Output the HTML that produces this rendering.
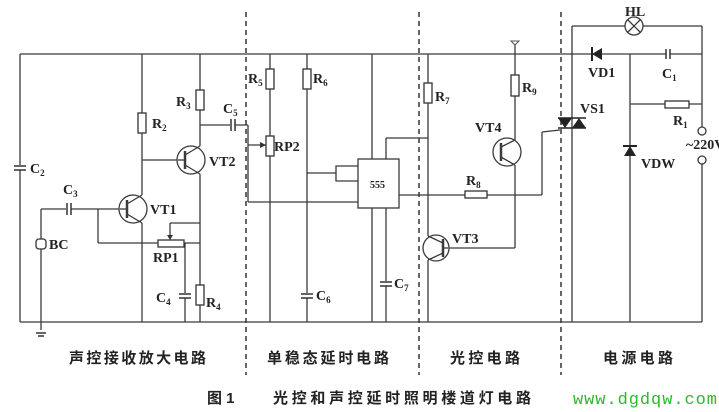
<!DOCTYPE html>
<html><head><meta charset="utf-8"><style>
html,body{margin:0;padding:0;background:#fff;}
svg{display:block;}
.w{stroke:#3a3a3a;stroke-width:1.3;fill:none;}
.t{font-family:"Liberation Serif",serif;font-weight:bold;font-size:14px;fill:#222;}
.c{font-family:"Liberation Sans","Noto Sans CJK SC",sans-serif;font-weight:bold;font-size:15px;fill:#222;}
</style></head><body>
<svg width="719" height="412" viewBox="0 0 719 412" xmlns="http://www.w3.org/2000/svg">
<g stroke="#333" stroke-width="1.5" stroke-dasharray="5,4">
<line x1="246" y1="12" x2="246" y2="375"/>
<line x1="419" y1="12" x2="419" y2="375"/>
<line x1="561" y1="12" x2="561" y2="375"/>
</g>
<g class="w">
<line x1="20" y1="54" x2="702" y2="54"/>
<line x1="20" y1="322" x2="702" y2="322"/>
<line x1="20" y1="54" x2="20" y2="322"/>
<line x1="142" y1="54" x2="142" y2="195"/>
<line x1="142" y1="223" x2="142" y2="322"/>
<line x1="142" y1="160" x2="178" y2="160"/>
<line x1="200" y1="54" x2="200" y2="146"/>
<line x1="200" y1="174" x2="200" y2="322"/>
<line x1="200" y1="125" x2="248" y2="125"/>
<line x1="41" y1="209" x2="120" y2="209"/>
<line x1="41" y1="209" x2="41" y2="330"/>
<line x1="98" y1="209" x2="98" y2="243"/>
<line x1="98" y1="243" x2="200" y2="243"/>
<line x1="170" y1="239" x2="170" y2="223"/>
<line x1="170" y1="223" x2="200" y2="223"/>
<line x1="185" y1="243" x2="185" y2="322"/>
<circle cx="133" cy="209" r="14" fill="#fff"/>
<line x1="127" y1="200" x2="127" y2="218" stroke-width="2.5"/>
<line x1="120" y1="209" x2="127" y2="209"/>
<line x1="127" y1="204" x2="142" y2="195"/>
<line x1="127" y1="214" x2="142" y2="223"/>
<circle cx="191" cy="160" r="14" fill="#fff"/>
<line x1="185" y1="151" x2="185" y2="169" stroke-width="2.5"/>
<line x1="178" y1="160" x2="185" y2="160"/>
<line x1="185" y1="155" x2="200" y2="146"/>
<line x1="185" y1="165" x2="200" y2="174"/>
<line x1="248" y1="125" x2="248" y2="202"/>
<line x1="248" y1="145" x2="266" y2="145"/>
<line x1="248" y1="202" x2="358" y2="202"/>
<line x1="270" y1="54" x2="270" y2="322"/>
<line x1="307" y1="54" x2="307" y2="322"/>
<line x1="307" y1="173" x2="336" y2="173"/>
<path d="M358 166 H336 V181 H358"/>
<rect x="358" y="159" width="41" height="49" fill="#fff"/>
<line x1="372" y1="54" x2="372" y2="159"/>
<line x1="386" y1="138" x2="386" y2="159"/>
<line x1="386" y1="138" x2="428" y2="138"/>
<line x1="372" y1="208" x2="372" y2="322"/>
<line x1="386" y1="208" x2="386" y2="322"/>
<line x1="399" y1="195" x2="542" y2="195"/>
<line x1="428" y1="54" x2="428" y2="236"/>
<line x1="428" y1="260" x2="428" y2="322"/>
<line x1="515" y1="44" x2="515" y2="140"/>
<line x1="515" y1="165" x2="515" y2="248"/>
<line x1="448" y1="248" x2="515" y2="248"/>
<line x1="542" y1="195" x2="542" y2="132"/>
<line x1="542" y1="132" x2="560" y2="130"/>
<circle cx="436" cy="248" r="13" fill="#fff"/>
<line x1="443" y1="239" x2="443" y2="257" stroke-width="2.5"/>
<line x1="443" y1="248" x2="448" y2="248"/>
<line x1="443" y1="243" x2="428" y2="236"/>
<line x1="443" y1="253" x2="428" y2="260"/>
<circle cx="507" cy="152" r="14" fill="#fff"/>
<line x1="501" y1="143" x2="501" y2="161" stroke-width="2.5"/>
<line x1="501" y1="147" x2="515" y2="140"/>
<line x1="501" y1="157" x2="515" y2="165"/>
<line x1="572" y1="26" x2="572" y2="322"/>
<line x1="572" y1="26" x2="625" y2="26"/>
<line x1="643" y1="26" x2="702" y2="26"/>
<line x1="702" y1="26" x2="702" y2="127"/>
<line x1="702" y1="164" x2="702" y2="322"/>
<line x1="630" y1="54" x2="630" y2="322"/>
<line x1="630" y1="104" x2="702" y2="104"/>
<circle cx="634" cy="26" r="9" fill="#fff"/>
<line x1="628" y1="20" x2="640" y2="32"/><line x1="640" y1="20" x2="628" y2="32"/>
<circle cx="702" cy="131" r="4" fill="#fff"/>
<circle cx="702" cy="160" r="4" fill="#fff"/>
</g>
<g fill="#fff" stroke="#333" stroke-width="1.3">
<rect x="138" y="113" width="8" height="20"/>
<rect x="196" y="90" width="8" height="20"/>
<rect x="196" y="285" width="8" height="20"/>
<rect x="266" y="69" width="8" height="20"/>
<rect x="266" y="136" width="8" height="20"/>
<rect x="303" y="69" width="8" height="20"/>
<rect x="424" y="83" width="8" height="20"/>
<rect x="511" y="75" width="8" height="21"/>
<rect x="465" y="191" width="22" height="7"/>
<rect x="665" y="101" width="24" height="7"/>
<rect x="158" y="240" width="26" height="7"/>
<rect x="36" y="239" width="10" height="10" rx="3"/>
</g>
<path d="M266 145 l-6 -3 v6z" fill="#333"/>
<path d="M170 240 l-3 -5 h6z" fill="#333"/>
<g stroke="#333" stroke-width="1.5">
<rect x="14" y="165" width="12" height="5" fill="#fff" stroke="none"/><line x1="14" y1="166" x2="26" y2="166"/><line x1="14" y1="170" x2="26" y2="170"/>
<rect x="66" y="203" width="5" height="12" fill="#fff" stroke="none"/><line x1="67" y1="203" x2="67" y2="215"/><line x1="71" y1="203" x2="71" y2="215"/>
<rect x="230" y="119" width="5" height="12" fill="#fff" stroke="none"/><line x1="231" y1="119" x2="231" y2="131"/><line x1="235" y1="119" x2="235" y2="131"/>
<rect x="179" y="293" width="12" height="5" fill="#fff" stroke="none"/><line x1="179" y1="294" x2="191" y2="294"/><line x1="179" y1="298" x2="191" y2="298"/>
<rect x="301" y="293" width="12" height="5" fill="#fff" stroke="none"/><line x1="301" y1="294" x2="313" y2="294"/><line x1="301" y1="298" x2="313" y2="298"/>
<rect x="380" y="281" width="12" height="5" fill="#fff" stroke="none"/><line x1="380" y1="282" x2="392" y2="282"/><line x1="380" y1="286" x2="392" y2="286"/>
<rect x="666" y="49" width="4" height="10" fill="#fff" stroke="none"/><line x1="666" y1="49" x2="666" y2="59"/><line x1="670" y1="49" x2="670" y2="59"/>
</g>
<path d="M592 54 l10 -6 v12z" fill="#222"/><line x1="592" y1="47" x2="592" y2="61" stroke="#222" stroke-width="2"/>
<path d="M630 146 l-6 10 h12z" fill="#222"/><line x1="623" y1="146" x2="637" y2="146" stroke="#222" stroke-width="2"/>
<g fill="#222"><path d="M558 118 h14 l-7 10z"/><path d="M572 128 h14 l-7 -10z"/></g>
<line x1="558" y1="118" x2="586" y2="118" stroke="#222" stroke-width="1.5"/>
<line x1="558" y1="128" x2="586" y2="128" stroke="#222" stroke-width="1.5"/>
<path d="M36 333 h10 M38 336 h6" stroke="#333" stroke-width="1.5"/>
<path d="M511 41 h8 l-4 4z" stroke="#555" fill="none"/>
<text class="t" x="30" y="173">C<tspan font-size="9" dy="3">2</tspan></text>
<text class="t" x="63" y="194">C<tspan font-size="9" dy="3">3</tspan></text>
<text class="t" x="49" y="249">BC</text>
<text class="t" x="152" y="128">R<tspan font-size="9" dy="3">2</tspan></text>
<text class="t" x="176" y="106">R<tspan font-size="9" dy="3">3</tspan></text>
<text class="t" x="150" y="214">VT1</text>
<text class="t" x="209" y="166">VT2</text>
<text class="t" x="223" y="113">C<tspan font-size="9" dy="3">5</tspan></text>
<text class="t" x="153" y="262">RP1</text>
<text class="t" x="156" y="302">C<tspan font-size="9" dy="3">4</tspan></text>
<text class="t" x="206" y="307">R<tspan font-size="9" dy="3">4</tspan></text>
<text class="t" x="248" y="83">R<tspan font-size="9" dy="3">5</tspan></text>
<text class="t" x="313" y="83">R<tspan font-size="9" dy="3">6</tspan></text>
<text class="t" x="274" y="151">RP2</text>
<text class="t" x="316" y="300">C<tspan font-size="9" dy="3">6</tspan></text>
<text class="t" x="394" y="288">C<tspan font-size="9" dy="3">7</tspan></text>
<text x="370" y="188" font-family="Liberation Serif,serif" font-weight="bold" font-size="10" fill="#222">555</text>
<text class="t" x="435" y="101">R<tspan font-size="9" dy="3">7</tspan></text>
<text class="t" x="522" y="92">R<tspan font-size="9" dy="3">9</tspan></text>
<text class="t" x="475" y="132">VT4</text>
<text class="t" x="466" y="185">R<tspan font-size="9" dy="3">8</tspan></text>
<text class="t" x="452" y="243">VT3</text>
<text class="t" x="580" y="113" font-size="12">VS1</text>
<text class="t" x="625" y="16" font-size="10">HL</text>
<text class="t" x="588" y="77" font-size="12">VD1</text>
<text class="t" x="662" y="78">C<tspan font-size="9" dy="3">1</tspan></text>
<text class="t" x="673" y="125">R<tspan font-size="9" dy="3">1</tspan></text>
<text class="t" x="641" y="168" font-size="12">VDW</text>
<text class="t" x="686" y="149" font-size="8">~220V</text>
<text class="c" x="69" y="363" textLength="137">声控接收放大电路</text>
<text class="c" x="267" y="363" textLength="122">单稳态延时电路</text>
<text class="c" x="450" y="363" textLength="70">光控电路</text>
<text class="c" x="603" y="363" textLength="70">电源电路</text>
<text class="c" x="207" y="403" font-size="14">图 1</text>
<text class="c" x="273" y="403" font-size="14" textLength="258">光控和声控延时照明楼道灯电路</text>
<text x="573" y="404" font-family="Liberation Mono,monospace" font-size="17" fill="#2db82d" textLength="144">www.dgdqw.com</text>
</svg>
</body></html>
